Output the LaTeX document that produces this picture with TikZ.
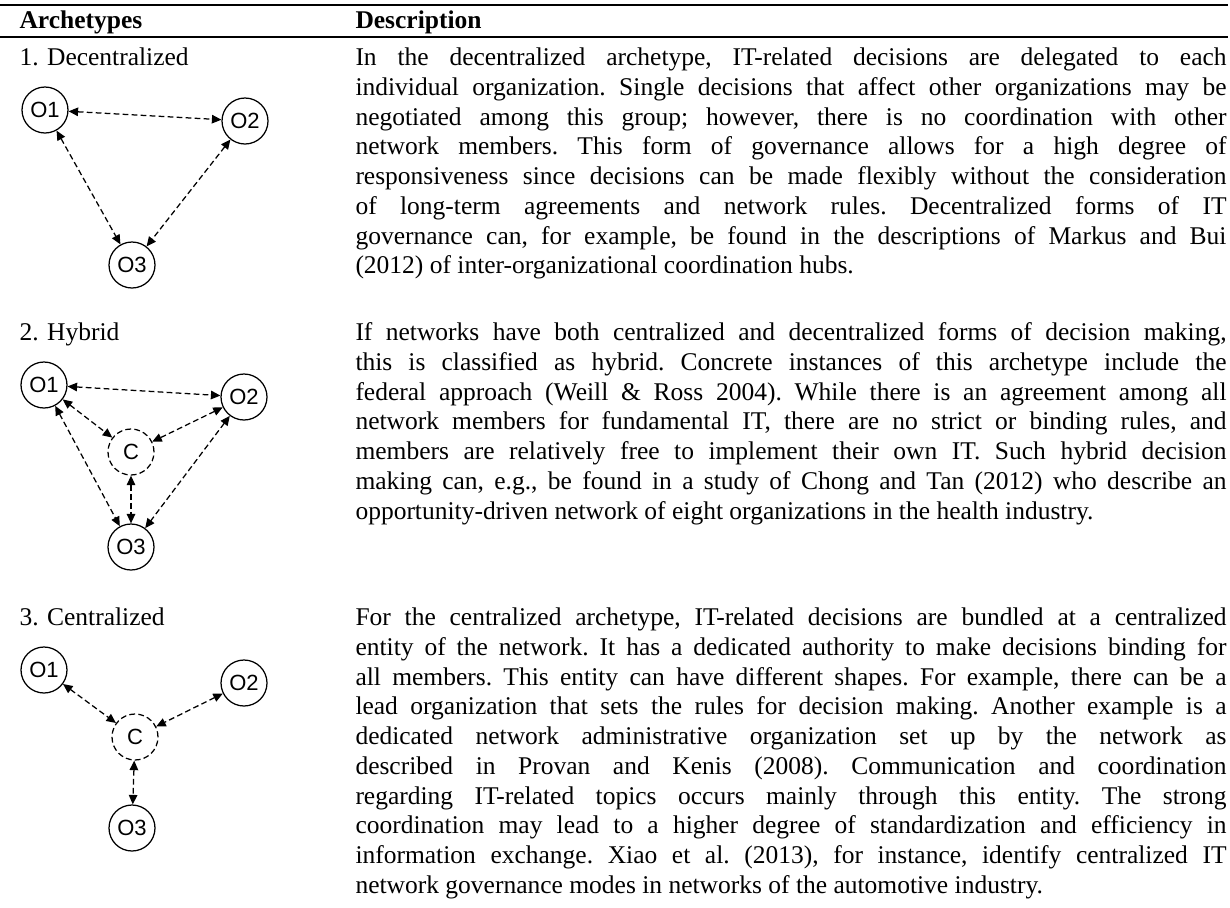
\documentclass[tikz,border=0pt]{standalone}
\usepackage{fontspec}
\setmainfont{Liberation Serif}
\newfontfamily\orgfont{Liberation Sans}
\usetikzlibrary{arrows.meta}
\newcommand\descfont{\fontsize{10.2pt}{11.9pt}\selectfont}
\newcommand\descsetup{\descfont\frenchspacing
  \tolerance=10000\relax\hyphenpenalty=10000\relax\exhyphenpenalty=10000\relax}
\tikzset{
  org/.style={circle, draw, line width=0.5pt, minimum size=18.4pt, inner sep=0pt,
    font=\orgfont\fontsize{8.8}{10}\selectfont},
  hub/.style={org, dash pattern=on 2.3pt off 1.3pt},
  link/.style={{Triangle[length=3.8pt,width=3.4pt]}-{Triangle[length=3.8pt,width=3.4pt]},
    line width=0.5pt, dash pattern=on 2.3pt off 1.3pt},
  rowlabel/.style={anchor=base west, inner sep=0pt, font=\descfont},
  headlabel/.style={anchor=base west, inner sep=0pt, font=\descfont\bfseries},
  desc/.style={anchor=north west, inner sep=0pt, text width=348.4pt, align=justify,
    font=\descsetup},
  tablerule/.style={line width=0.8pt}
}
\begin{document}
\begin{tikzpicture}[x=0.4pt,y=-0.4pt]
\useasboundingbox (0,0) rectangle (1230,907);

% table rules and header
\draw[tablerule] (0,5) -- (1228,5);
\draw[tablerule] (0,37) -- (1228,37);
\node[headlabel] (hA) at (19,28) {Archetypes};
\node[headlabel] (hD) at (355,28) {Description};

% 1. Decentralized
\node[rowlabel] (l1) at (19,65) {1. Decentralized};
\node[org] (a1) at (45,110) {O1};
\node[org] (a2) at (245,121) {O2};
\node[org] (a3) at (132,265) {O3};
\draw[link] (a1) -- (a2);
\draw[link] (a1) -- (a3);
\draw[link] (a2) -- (a3);
\node[desc] (d1) at (355,44.2) {\strut In the decentralized archetype, IT-related decisions are delegated to each\linebreak
individual organization. Single decisions that affect other organizations may be\linebreak
negotiated among this group; however, there is no coordination with other\linebreak
network members. This form of governance allows for a high degree of\linebreak
responsiveness since decisions can be made flexibly without the consideration\linebreak
of long-term agreements and network rules. Decentralized forms of IT\linebreak
governance can, for example, be found in the descriptions of Markus and Bui\linebreak
(2012) of inter-organizational coordination hubs.};

% 2. Hybrid
\node[rowlabel] (l2) at (19,340) {2. Hybrid};
\node[org] (b1) at (44,385) {O1};
\node[org] (b2) at (244,397) {O2};
\node[hub] (bc) at (131,452) {C};
\node[org] (b3) at (131,547) {O3};
\draw[link] (b1) -- (b2);
\draw[link] (b1) -- (bc);
\draw[link] (b2) -- (bc);
\draw[link] (bc) -- (b3);
\draw[link] (b1) -- (b3);
\draw[link] (b2) -- (b3);
\node[desc] (d2) at (355,319.2) {\strut If networks have both centralized and decentralized forms of decision making,\linebreak
this is classified as hybrid. Concrete instances of this archetype include the\linebreak
federal approach (Weill \& Ross 2004). While there is an agreement among all\linebreak
network members for fundamental IT, there are no strict or binding rules, and\linebreak
members are relatively free to implement their own IT. Such hybrid decision\linebreak
making can, e.g., be found in a study of Chong and Tan (2012) who describe an\linebreak
opportunity-driven network of eight organizations in the health industry.};

% 3. Centralized
\node[rowlabel] (l3) at (19,625) {3. Centralized};
\node[org] (c1) at (44,670) {O1};
\node[org] (c2) at (244,683) {O2};
\node[hub] (cc) at (135,737) {C};
\node[org] (c3) at (132,828) {O3};
\draw[link] (c1) -- (cc);
\draw[link] (c2) -- (cc);
\draw[link] (cc) -- (c3);
\node[desc] (d3) at (355,604.2) {\strut For the centralized archetype, IT-related decisions are bundled at a centralized\linebreak
entity of the network. It has a dedicated authority to make decisions binding for\linebreak
all members. This entity can have different shapes. For example, there can be a\linebreak
lead organization that sets the rules for decision making. Another example is a\linebreak
dedicated network administrative organization set up by the network as\linebreak
described in Provan and Kenis (2008). Communication and coordination\linebreak
regarding IT-related topics occurs mainly through this entity. The strong\linebreak
coordination may lead to a higher degree of standardization and efficiency in\linebreak
information exchange. Xiao et al. (2013), for instance, identify centralized IT\linebreak
network governance modes in networks of the automotive industry.};
\end{tikzpicture}
\end{document}
